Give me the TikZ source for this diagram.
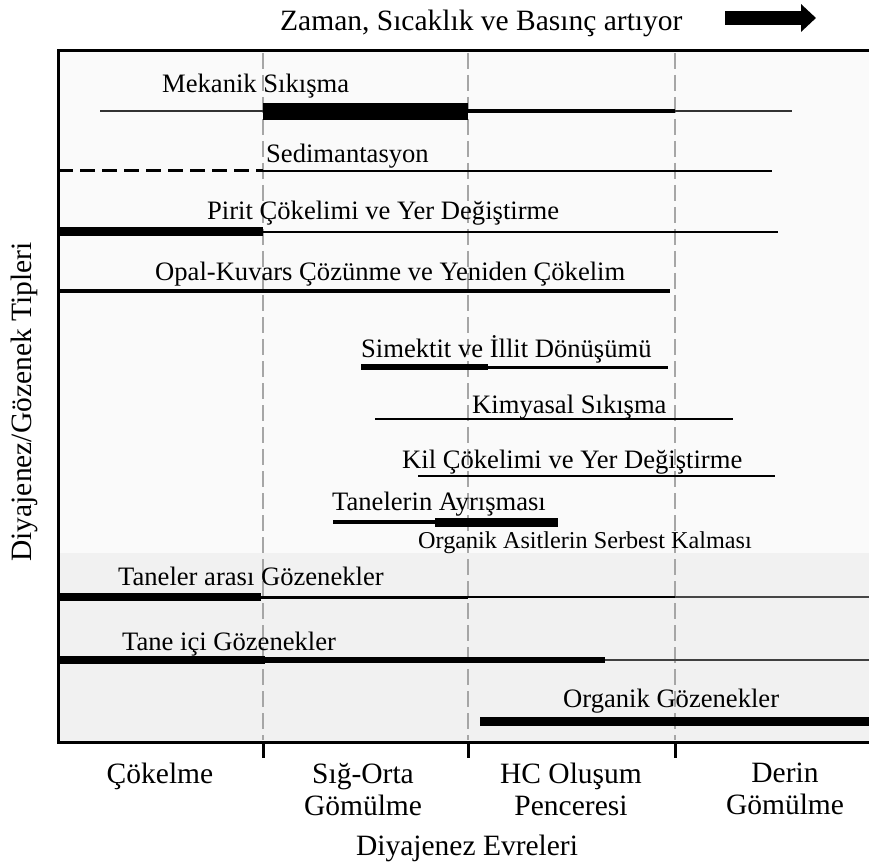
\documentclass[tikz,border=0pt]{standalone}
\usepackage{fontspec}
\setmainfont{Liberation Serif}
\usetikzlibrary{arrows.meta}

\tikzset{
	lbl/.style={anchor=base west,inner sep=0pt,font=\fontsize{26.6}{30}\selectfont},
	axlbl/.style={inner sep=0pt,font=\fontsize{29.5}{32}\selectfont},
	evre/.style={axlbl,anchor=north,align=center},
	evreline/.style={draw=gray!70,line width=1.8pt,dash pattern=on 16pt off 6pt},
	ince/.style={line width=1.5pt},
	orta/.style={line width=3pt},
	kalin/.style={line width=8pt}
}

\begin{document}
\begin{tikzpicture}[x=1pt,y=-1pt]
	\useasboundingbox (0,0) rectangle (869,866);
	% zemin
	\fill[gray!4] (58,51) rectangle (869,553);
	\fill[gray!11] (58,553) rectangle (869,742);
	\foreach \x in {263,468,675} {
		\draw[evreline] (\x,53) -- (\x,740);
		\draw[line width=3pt] (\x,742) -- (\x,758);
	}
	\draw[line width=3pt] (869,51) -- (58,51) -- (58,742) -- (869,742);
	% ust baslik
	\node[axlbl,anchor=base west] (baslik) at (280,31) {Zaman, Sıcaklık ve Basınç artıyor};
	\draw[line width=14pt,-{Triangle[length=15pt,width=27pt]}] (725,18) -- (816,18);
	% cubuklar
	\draw[ince,gray!40!black] (100,111) -- (263,111);
	\draw[line width=17pt] (263,111.5) -- (468,111.5);
	\draw[line width=4pt] (468,111) -- (675,111);
	\draw[line width=1.2pt,gray!40!black] (675,111) -- (792,111);
	\draw[line width=3pt,dash pattern=on 15pt off 7pt] (58,171) -- (263,171);
	\draw[line width=2.5pt] (263,171) -- (772,171);
	\draw[line width=9pt] (58,232) -- (263,232);
	\draw[line width=2.5pt] (263,232) -- (778,232);
	\draw[line width=4pt] (58,291) -- (670,291);
	\draw[line width=6pt] (361,367) -- (488,367);
	\draw[orta] (488,367) -- (668,367);
	\draw[ince] (375,419) -- (733,419);
	\draw[ince] (418,476) -- (775,476);
	\draw[line width=4pt] (333,522) -- (435,522);
	\draw[line width=9pt] (435,522) -- (558,522);
	\draw[kalin] (58,597) -- (261,597);
	\draw[orta] (261,597) -- (468,597);
	\draw[ince] (468,597) -- (675,597);
	\draw[line width=2pt,gray!55!black] (675,597) -- (869,597);
	\draw[kalin] (58,660) -- (265,660);
	\draw[line width=6pt] (265,660) -- (605,660);
	\draw[line width=2pt,gray!50!black] (605,660) -- (869,660);
	\draw[line width=9pt] (480,721) -- (869,721);
	% etiketler
	\node[lbl] (mekanik) at (162,93) {Mekanik Sıkışma};
	\node[lbl] (sediment) at (266,163) {Sedimantasyon};
	\node[lbl] (pirit) at (207,220) {Pirit Çökelimi ve Yer Değiştirme};
	\node[lbl] (opal) at (155,280) {Opal-Kuvars Çözünme ve Yeniden Çökelim};
	\node[lbl] (simektit) at (361,357) {Simektit ve İllit Dönüşümü};
	\node[lbl] (kimyasal) at (472,413) {Kimyasal Sıkışma};
	\node[lbl] (kil) at (402,468) {Kil Çökelimi ve Yer Değiştirme};
	\node[lbl] (ayrisma) at (332,510) {Tanelerin Ayrışması};
	\node[lbl,font=\fontsize{24.2}{28}\selectfont] (asit) at (418,548) {Organik Asitlerin Serbest Kalması};
	\node[lbl] (tanearasi) at (118,585) {Taneler arası Gözenekler};
	\node[lbl] (taneici) at (122,650) {Tane içi Gözenekler};
	\node[lbl] (organik) at (563,707) {Organik Gözenekler};
	% eksenler
	\node[axlbl,rotate=90] (tipler) at (24,402) {Diyajenez/Gözenek Tipleri};
	\node[evre] (cokelme) at (160,763) {Çökelme};
	\node[evre] (sig) at (363,763) {Sığ-Orta\\Gömülme};
	\node[evre] (hc) at (571,763) {HC Oluşum\\Penceresi};
	\node[evre] (derin) at (785,763) {Derin\\Gömülme};
	\node[axlbl,anchor=base] (evreler) at (467,855) {Diyajenez Evreleri};
\end{tikzpicture}
\end{document}
